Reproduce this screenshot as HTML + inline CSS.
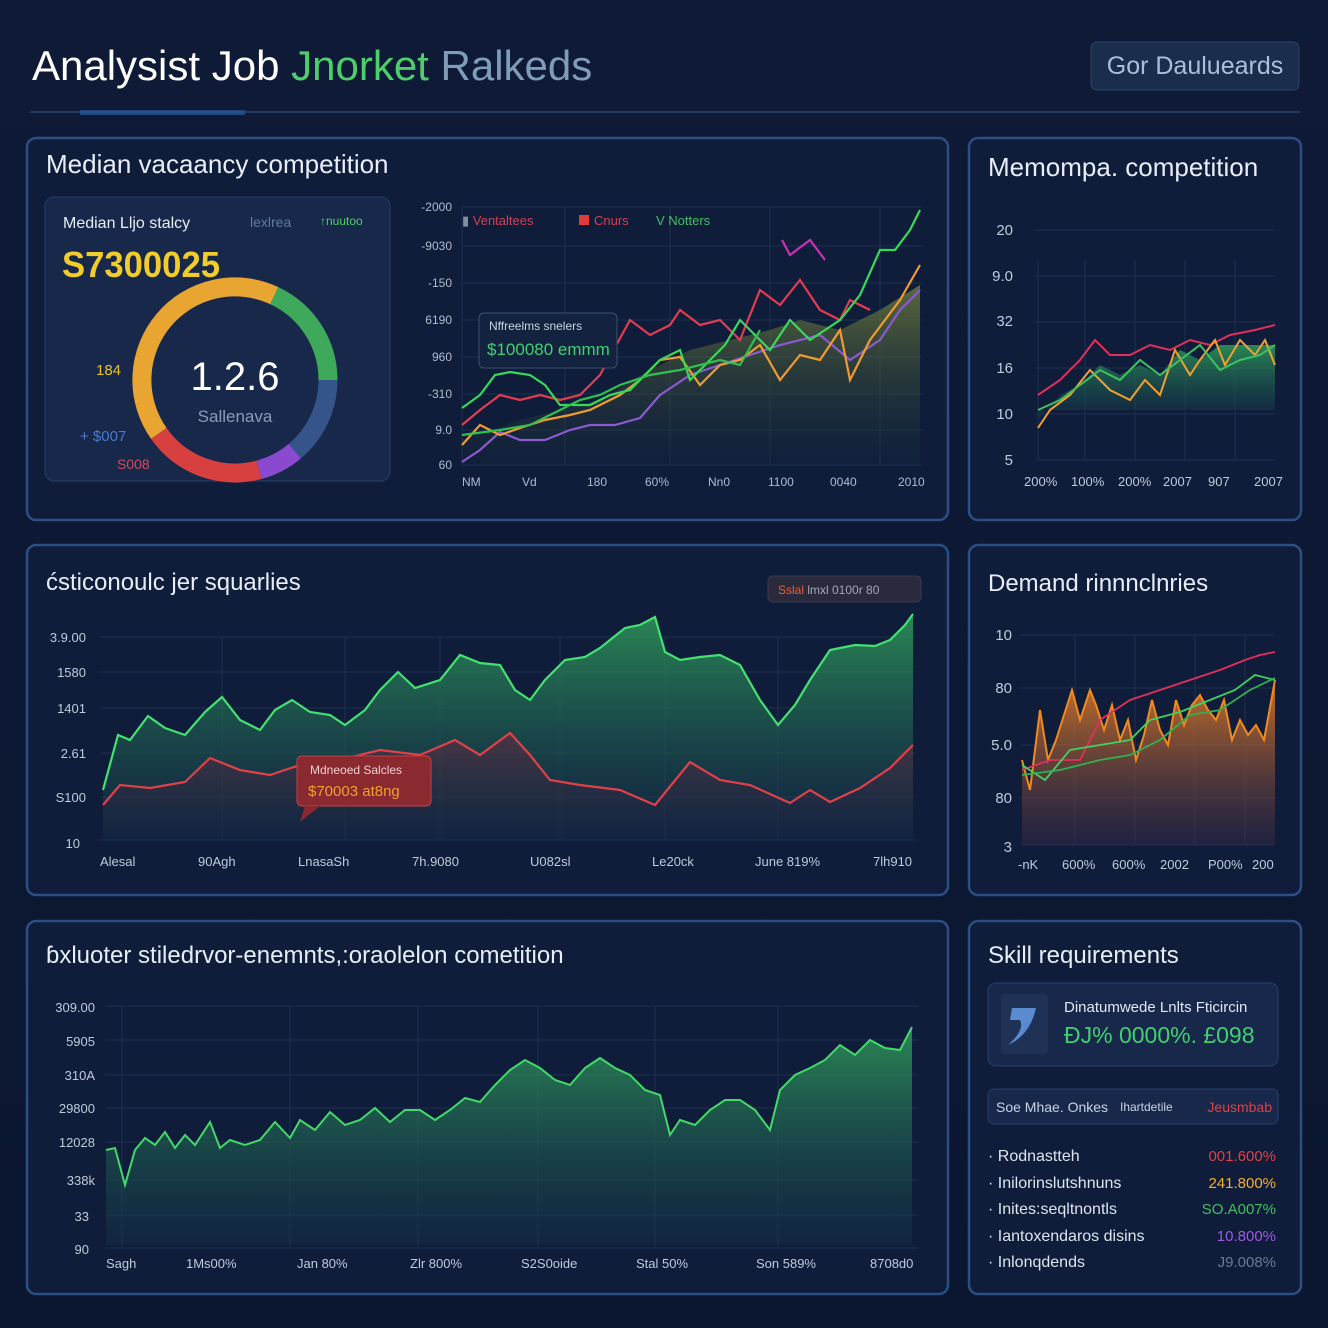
<!DOCTYPE html>
<html><head><meta charset="utf-8"><style>
html,body{margin:0;padding:0;background:#0c1730;}
svg{display:block}
text{font-family:"Liberation Sans",sans-serif}
</style></head><body>
<svg width="1328" height="1328" viewBox="0 0 1328 1328" xmlns="http://www.w3.org/2000/svg">
<defs>
<linearGradient id="bg" x1="0" y1="0" x2="0" y2="1"><stop offset="0" stop-color="#0e1a36"/><stop offset="1" stop-color="#0b1630"/></linearGradient>
<linearGradient id="gA" x1="0" y1="0" x2="0" y2="1"><stop offset="0" stop-color="#2f9a5a" stop-opacity="0.85"/><stop offset="1" stop-color="#14304a" stop-opacity="0.4"/></linearGradient>
<linearGradient id="gO" x1="0" y1="0" x2="0" y2="1"><stop offset="0" stop-color="#e07a25" stop-opacity="0.9"/><stop offset="1" stop-color="#3a2a4a" stop-opacity="0.4"/></linearGradient>
<linearGradient id="gR" x1="0" y1="0" x2="0" y2="1"><stop offset="0" stop-color="#6a2a40" stop-opacity="0.6"/><stop offset="1" stop-color="#1a2040" stop-opacity="0.2"/></linearGradient>
<linearGradient id="gY" x1="0" y1="0" x2="0" y2="1"><stop offset="0" stop-color="#7a8a3a" stop-opacity="0.7"/><stop offset="1" stop-color="#142a3a" stop-opacity="0.2"/></linearGradient>
</defs>
<rect width="1328" height="1328" fill="url(#bg)"/>
<!-- header -->
<text x="32" y="80" font-size="42" fill="#ffffff">Analysist Job <tspan fill="#4ccf6a">Jnorket</tspan> <tspan fill="#7f9db8">Ralkeds</tspan></text>
<rect x="1091" y="42" width="208" height="48" rx="6" fill="#1a2d4c" stroke="#2c4468"/>
<text x="1195" y="74" font-size="25" fill="#a8c0dc" text-anchor="middle">Gor Daulueards</text>
<line x1="30" y1="112" x2="1300" y2="112" stroke="#23385a" stroke-width="2"/>
<rect x="80" y="110" width="165" height="5" fill="#2a5aa0" opacity="0.7"/>
<!-- panels -->
<g fill="#0f1d3a" stroke="#2b4f85" stroke-width="2.5">
<rect x="27" y="138" width="921" height="382" rx="9"/>
<rect x="969" y="138" width="332" height="382" rx="9"/>
<rect x="27" y="545" width="921" height="350" rx="9"/>
<rect x="969" y="545" width="332" height="350" rx="9"/>
<rect x="27" y="921" width="921" height="373" rx="9"/>
<rect x="969" y="921" width="332" height="373" rx="9"/>
</g>
<!-- P1 -->
<text x="46" y="173" font-size="26" fill="#e8eef8">Median vacaancy competition</text>
<rect x="45" y="197" width="345" height="284" rx="9" fill="#17284a" stroke="#23406a"/>
<text x="63" y="228" font-size="16" fill="#e8eef8">Median Lljo stalcy</text>
<text x="250" y="227" font-size="14" fill="#5f7da0">lexlrea</text>
<text x="320" y="225" font-size="12" fill="#4ccf6a">↑nuutoo</text>
<text x="62" y="277" font-size="36" font-weight="bold" fill="#f2cc2a" textLength="158" lengthAdjust="spacingAndGlyphs">S7300025</text>
<g fill="none" stroke-width="19">
<path d="M 158.8 433.4 A 93 93 0 0 1 274.3 295.7" stroke="#e8a532"/>
<path d="M 274.3 295.7 A 93 93 0 0 1 328 380" stroke="#3ea95a"/>
<path d="M 328 380 A 93 93 0 0 1 294.8 451.2" stroke="#34548a"/>
<path d="M 294.8 451.2 A 93 93 0 0 1 259.1 469.8" stroke="#8a4ad0"/>
<path d="M 259.1 469.8 A 93 93 0 0 1 158.8 433.4" stroke="#d84040"/>
</g>
<text x="235" y="390" font-size="40" fill="#ffffff" text-anchor="middle">1.2.6</text>
<text x="235" y="422" font-size="17" fill="#8a9cb4" text-anchor="middle">Sallenava</text>
<text x="96" y="375" font-size="15" fill="#e8c030">184</text>
<text x="80" y="441" font-size="15" fill="#4a7ad0">+ $007</text>
<text x="117" y="469" font-size="14" fill="#d84858">S008</text>
<g stroke="#1d3050" stroke-width="1">
<line x1="462" y1="207" x2="922" y2="207"/><line x1="462" y1="246" x2="922" y2="246"/><line x1="462" y1="283" x2="922" y2="283"/><line x1="462" y1="320" x2="922" y2="320"/><line x1="462" y1="357" x2="922" y2="357"/><line x1="462" y1="394" x2="922" y2="394"/><line x1="462" y1="430" x2="922" y2="430"/><line x1="462" y1="465" x2="922" y2="465"/>
<line x1="462" y1="207" x2="462" y2="465"/><line x1="565" y1="207" x2="565" y2="465"/><line x1="670" y1="207" x2="670" y2="465"/><line x1="770" y1="207" x2="770" y2="465"/><line x1="880" y1="207" x2="880" y2="465"/>
</g>
<g font-size="12" fill="#b0bccc" text-anchor="end">
<text x="452" y="211">-2000</text><text x="452" y="250">-9030</text><text x="452" y="287">-150</text><text x="452" y="324">6190</text><text x="452" y="361">960</text><text x="452" y="398">-310</text><text x="452" y="434">9.0</text><text x="452" y="469">60</text>
</g>
<g font-size="12" fill="#b0bccc"><text x="462" y="486">NM</text><text x="522" y="486">Vd</text><text x="587" y="486">180</text><text x="645" y="486">60%</text><text x="708" y="486">Nn0</text><text x="768" y="486">1100</text><text x="830" y="486">0040</text><text x="898" y="486">2010</text></g>
<text x="462" y="225" font-size="13" fill="#d04050"><tspan fill="#8090a0">▮ </tspan>Ventaltees</text>
<rect x="579" y="215" width="10" height="10" fill="#e03a3a"/><text x="594" y="225" font-size="13" fill="#d04050">Cnurs</text>
<text x="656" y="225" font-size="13" fill="#40c060">V Notters</text>
<path d="M 462 440 L 520 420 L 560 410 L 600 400 L 650 370 L 690 350 L 730 340 L 770 330 L 800 320 L 840 330 L 880 310 L 920 285 L 920 465 L 462 465 Z" fill="url(#gY)"/>
<g fill="none" stroke-width="2.2">
<polyline stroke="#8a5ad0" points="462,462 480,450 500,432 520,440 545,440 570,430 590,425 615,425 640,418 660,395 690,375 720,365 750,355 780,345 820,335 850,360 880,340 900,310 920,290"/>
<polyline stroke="#f09a30" points="462,445 480,425 500,435 520,428 545,420 570,415 590,410 620,395 640,380 660,360 680,357 700,385 720,365 740,360 760,345 780,380 800,355 820,360 840,330 850,380 870,340 900,300 920,265"/>
<polyline stroke="#e23c50" points="462,425 480,410 500,395 520,400 540,395 560,400 580,395 600,375 630,320 650,335 670,325 680,310 700,325 720,320 740,340 760,290 780,305 800,280 820,310 840,320 850,300 870,310"/>
<polyline stroke="#d030b0" points="782,240 790,255 810,240 825,260"/>
<polyline stroke="#38d858" points="462,408 480,395 495,375 510,372 530,375 545,385 560,405 590,405 610,395 630,390 650,370 660,360 680,350 690,380 710,360 725,345 740,320 750,330 770,350 790,320 810,340 840,320 860,295 880,250 895,250 910,230 920,210"/>
<polyline stroke="#30c050" points="462,435 500,430 530,425 560,410 580,400 600,395 620,385 650,375 680,370 720,360 740,365 760,330"/>
</g>
<rect x="479" y="313" width="138" height="55" rx="5" fill="#13233f" stroke="#38506e"/>
<text x="489" y="330" font-size="12" fill="#c8d4e4">Nffreelms snelers</text>
<text x="487" y="355" font-size="17" fill="#40d070">$100080 emmm</text>
<!-- P2 -->
<text x="988" y="176" font-size="26" fill="#e8eef8">Memompa. competition</text>
<g stroke="#1d3050"><line x1="1035" y1="230" x2="1275" y2="230"/><line x1="1035" y1="276" x2="1275" y2="276"/><line x1="1035" y1="322" x2="1275" y2="322"/><line x1="1035" y1="368" x2="1275" y2="368"/><line x1="1035" y1="414" x2="1275" y2="414"/><line x1="1035" y1="460" x2="1275" y2="460"/><line x1="1038" y1="260" x2="1038" y2="460"/><line x1="1085" y1="260" x2="1085" y2="460"/><line x1="1135" y1="260" x2="1135" y2="460"/><line x1="1185" y1="260" x2="1185" y2="460"/><line x1="1235" y1="260" x2="1235" y2="460"/></g>
<g font-size="15" fill="#c0cad8" text-anchor="end"><text x="1013" y="235">20</text><text x="1013" y="281">9.0</text><text x="1013" y="326">32</text><text x="1013" y="373">16</text><text x="1013" y="419">10</text><text x="1013" y="465">5</text></g>
<g font-size="13" fill="#c0cad8"><text x="1024" y="486">200%</text><text x="1071" y="486">100%</text><text x="1118" y="486">200%</text><text x="1163" y="486">2007</text><text x="1208" y="486">907</text><text x="1254" y="486">2007</text></g>
<path d="M1038 420 L1060 395 L1080 385 L1100 365 L1120 375 L1140 365 L1160 375 L1180 350 L1200 360 L1220 345 L1240 345 L1260 345 L1275 345 L1275 410 L1038 410 Z" fill="url(#gA)"/>
<g fill="none" stroke-width="2"><polyline stroke="#e0305a" points="1038,395 1060,380 1080,360 1095,340 1110,355 1130,355 1150,345 1170,350 1190,340 1210,345 1230,335 1255,330 1275,325"/>
<polyline stroke="#f0a030" points="1038,428 1050,410 1070,395 1090,370 1110,390 1130,400 1145,380 1160,395 1175,350 1190,375 1200,360 1215,340 1225,365 1240,340 1255,355 1265,340 1275,365"/>
<polyline stroke="#40c060" points="1038,410 1060,400 1080,385 1100,370 1120,380 1140,360 1160,375 1180,360 1200,345 1220,370 1240,360 1260,355 1275,345"/></g>
<!-- P3 -->
<text x="46" y="590" font-size="24" fill="#e8eef8">ćsticonoulc jer squarlies</text>
<rect x="768" y="576" width="153" height="26" rx="5" fill="#2a2a3c" stroke="#3a3a50"/>
<text x="778" y="594" font-size="12" fill="#e06040">Sslal <tspan fill="#a0a8b8">lmxl  0100r 80</tspan></text>
<g stroke="#1d3050"><line x1="100" y1="637" x2="915" y2="637"/><line x1="100" y1="672" x2="915" y2="672"/><line x1="100" y1="708" x2="915" y2="708"/><line x1="100" y1="753" x2="915" y2="753"/><line x1="100" y1="797" x2="915" y2="797"/><line x1="100" y1="840" x2="915" y2="840"/>
<line x1="222" y1="637" x2="222" y2="840"/><line x1="345" y1="637" x2="345" y2="840"/><line x1="440" y1="637" x2="440" y2="840"/><line x1="560" y1="637" x2="560" y2="840"/><line x1="665" y1="637" x2="665" y2="840"/><line x1="778" y1="637" x2="778" y2="840"/></g>
<g font-size="13" fill="#c0cad8" text-anchor="end"><text x="86" y="642">3.9.00</text><text x="86" y="677">1580</text><text x="86" y="713">1401</text><text x="86" y="758">2.61</text><text x="86" y="802">S100</text><text x="80" y="848">10</text></g>
<g font-size="13" fill="#c0cad8"><text x="100" y="866">Alesal</text><text x="198" y="866">90Agh</text><text x="298" y="866">LnasaSh</text><text x="412" y="866">7h.9080</text><text x="530" y="866">U082sl</text><text x="652" y="866">Le20ck</text><text x="755" y="866">June 819%</text><text x="873" y="866">7lh910</text></g>
<path d="M103 790 L118 735 L130 740 L148 716 L165 728 L185 735 L205 712 L222 697 L240 720 L260 730 L275 710 L292 700 L310 712 L330 715 L345 725 L365 710 L380 690 L398 672 L415 688 L440 680 L460 655 L480 663 L500 665 L515 690 L530 700 L545 680 L565 660 L585 657 L600 648 L625 628 L640 625 L655 617 L665 652 L680 660 L700 657 L720 655 L740 665 L760 700 L778 725 L795 705 L810 680 L830 650 L855 645 L875 646 L890 640 L905 625 L913 614 L913 840 L103 840 Z" fill="url(#gA)"/>
<polyline fill="none" stroke="#44e070" stroke-width="2.2" points="103,790 118,735 130,740 148,716 165,728 185,735 205,712 222,697 240,720 260,730 275,710 292,700 310,712 330,715 345,725 365,710 380,690 398,672 415,688 440,680 460,655 480,663 500,665 515,690 530,700 545,680 565,660 585,657 600,648 625,628 640,625 655,617 665,652 680,660 700,657 720,655 740,665 760,700 778,725 795,705 810,680 830,650 855,645 875,646 890,640 905,625 913,614"/>
<path d="M103 805 L120 785 L150 788 L185 782 L210 758 L240 770 L270 775 L300 765 L340 760 L380 750 L420 755 L455 740 L480 755 L510 733 L530 755 L550 780 L580 785 L620 790 L655 805 L690 762 L720 780 L750 785 L790 803 L810 790 L830 802 L860 788 L890 768 L913 745 L913 840 L103 840 Z" fill="url(#gR)"/>
<polyline fill="none" stroke="#e04048" stroke-width="2.2" points="103,805 120,785 150,788 185,782 210,758 240,770 270,775 300,765 340,760 380,750 420,755 455,740 480,755 510,733 530,755 550,780 580,785 620,790 655,805 690,762 720,780 750,785 790,803 810,790 830,802 860,788 890,768 913,745"/>
<rect x="297" y="756" width="134" height="50" rx="5" fill="#8a2a30" stroke="#c04048"/>
<path d="M305 806 L300 822 L320 806 Z" fill="#8a2a30"/>
<text x="310" y="774" font-size="12" fill="#f0d0d0">Mdneoed Salcles</text>
<text x="308" y="796" font-size="15" fill="#f0a030">$70003 at8ng</text>
<!-- P4 -->
<text x="988" y="591" font-size="24" fill="#e8eef8">Demand rinnnclnries</text>
<g stroke="#1d3050"><line x1="1020" y1="635" x2="1275" y2="635"/><line x1="1020" y1="688" x2="1275" y2="688"/><line x1="1020" y1="745" x2="1275" y2="745"/><line x1="1020" y1="798" x2="1275" y2="798"/><line x1="1020" y1="845" x2="1275" y2="845"/><line x1="1075" y1="635" x2="1075" y2="845"/><line x1="1135" y1="635" x2="1135" y2="845"/><line x1="1195" y1="635" x2="1195" y2="845"/><line x1="1245" y1="635" x2="1245" y2="845"/></g>
<g font-size="15" fill="#c0cad8" text-anchor="end"><text x="1012" y="640">10</text><text x="1012" y="693">80</text><text x="1012" y="750">5.0</text><text x="1012" y="803">80</text><text x="1012" y="852">3</text></g>
<g font-size="13" fill="#c0cad8"><text x="1018" y="869">-nK</text><text x="1062" y="869">600%</text><text x="1112" y="869">600%</text><text x="1160" y="869">2002</text><text x="1208" y="869">P00%</text><text x="1252" y="869">200</text></g>
<path d="M1022 760 L1030 790 L1040 710 L1048 760 L1056 740 L1064 715 L1072 690 L1080 720 L1090 690 L1096 705 L1104 730 L1112 705 L1120 740 L1128 720 L1136 760 L1144 735 L1152 700 L1160 730 L1168 745 L1176 700 L1184 725 L1192 705 L1200 695 L1208 710 L1216 720 L1224 700 L1232 740 L1240 720 L1248 735 L1256 725 L1264 740 L1275 680 L1275 845 L1022 845 Z" fill="url(#gO)"/>
<polyline fill="none" stroke="#f08a20" stroke-width="2" points="1022,760 1030,790 1040,710 1048,760 1056,740 1064,715 1072,690 1080,720 1090,690 1096,705 1104,730 1112,705 1120,740 1128,720 1136,760 1144,735 1152,700 1160,730 1168,745 1176,700 1184,725 1192,705 1200,695 1208,710 1216,720 1224,700 1232,740 1240,720 1248,735 1256,725 1264,740 1275,680"/>
<g fill="none" stroke-width="1.8"><polyline stroke="#e0305a" points="1022,770 1050,760 1080,760 1100,720 1130,700 1160,690 1190,680 1220,670 1245,660 1260,655 1275,652"/>
<polyline stroke="#40d060" points="1022,765 1045,780 1070,750 1100,745 1130,740 1150,720 1180,712 1210,700 1235,690 1255,675 1275,680"/>
<polyline stroke="#30b050" points="1022,775 1060,770 1100,760 1130,755 1160,740 1190,715 1220,710 1250,690 1275,678"/></g>
<!-- P5 -->
<text x="46" y="963" font-size="24" fill="#e8eef8">ɓxluoter stiledrvor-enemnts,:oraolelon cometition</text>
<g stroke="#1d3050"><line x1="105" y1="1006" x2="918" y2="1006"/><line x1="105" y1="1040" x2="918" y2="1040"/><line x1="105" y1="1075" x2="918" y2="1075"/><line x1="105" y1="1108" x2="918" y2="1108"/><line x1="105" y1="1142" x2="918" y2="1142"/><line x1="105" y1="1180" x2="918" y2="1180"/><line x1="105" y1="1215" x2="918" y2="1215"/><line x1="105" y1="1248" x2="918" y2="1248"/>
<line x1="122" y1="1006" x2="122" y2="1248"/><line x1="290" y1="1006" x2="290" y2="1248"/><line x1="418" y1="1006" x2="418" y2="1248"/><line x1="538" y1="1006" x2="538" y2="1248"/><line x1="655" y1="1006" x2="655" y2="1248"/><line x1="778" y1="1006" x2="778" y2="1248"/></g>
<g font-size="13" fill="#c0cad8" text-anchor="end"><text x="95" y="1012">309.00</text><text x="95" y="1046">5905</text><text x="95" y="1080">310A</text><text x="95" y="1113">29800</text><text x="95" y="1147">12028</text><text x="95" y="1185">338k</text><text x="89" y="1221">33</text><text x="89" y="1254">90</text></g>
<g font-size="13" fill="#c0cad8"><text x="106" y="1268">Sagh</text><text x="186" y="1268">1Ms00%</text><text x="297" y="1268">Jan 80%</text><text x="410" y="1268">Zlr 800%</text><text x="521" y="1268">S2S0oide</text><text x="636" y="1268">Stal 50%</text><text x="756" y="1268">Son 589%</text><text x="870" y="1268">8708d0</text></g>
<path d="M106 1150 L115 1148 L125 1185 L135 1150 L145 1138 L155 1145 L165 1132 L175 1148 L185 1135 L195 1145 L210 1122 L220 1148 L230 1140 L245 1145 L260 1140 L275 1122 L290 1138 L300 1120 L315 1130 L330 1112 L345 1125 L360 1120 L375 1108 L390 1122 L405 1110 L420 1110 L435 1120 L450 1110 L465 1098 L480 1102 L495 1085 L510 1070 L525 1060 L540 1068 L555 1080 L570 1085 L585 1068 L600 1058 L615 1068 L630 1075 L645 1090 L660 1095 L670 1135 L680 1120 L695 1125 L710 1110 L725 1100 L740 1100 L755 1110 L770 1130 L780 1090 L795 1075 L810 1068 L825 1060 L840 1045 L855 1055 L870 1040 L885 1048 L900 1050 L912 1027 L912 1245 L106 1245 Z" fill="url(#gA)"/>
<polyline fill="none" stroke="#44d868" stroke-width="2" points="106,1150 115,1148 125,1185 135,1150 145,1138 155,1145 165,1132 175,1148 185,1135 195,1145 210,1122 220,1148 230,1140 245,1145 260,1140 275,1122 290,1138 300,1120 315,1130 330,1112 345,1125 360,1120 375,1108 390,1122 405,1110 420,1110 435,1120 450,1110 465,1098 480,1102 495,1085 510,1070 525,1060 540,1068 555,1080 570,1085 585,1068 600,1058 615,1068 630,1075 645,1090 660,1095 670,1135 680,1120 695,1125 710,1110 725,1100 740,1100 755,1110 770,1130 780,1090 795,1075 810,1068 825,1060 840,1045 855,1055 870,1040 885,1048 900,1050 912,1027"/>
<!-- P6 -->
<text x="988" y="963" font-size="24" fill="#e8eef8">Skill requirements</text>
<rect x="988" y="983" width="290" height="83" rx="8" fill="#17284a" stroke="#23406a"/>
<rect x="1001" y="994" width="47" height="60" rx="4" fill="#1f3256"/>
<path d="M1012 1008 L1036 1008 Q1030 1035 1008 1045 Q1025 1030 1020 1020 L1010 1020 Z" fill="#5a8ad0"/>
<text x="1064" y="1012" font-size="15" fill="#e0e8f4">Dinatumwede Lnlts Fticircin</text>
<text x="1064" y="1043" font-size="23" fill="#40d070">ÐJ% 0000%. £098</text>
<rect x="988" y="1089" width="290" height="35" rx="6" fill="#17284a" stroke="#23406a"/>
<text x="996" y="1112" font-size="14" fill="#c8d4e4">Soe Mhae. Onkes</text>
<text x="1120" y="1111" font-size="12" fill="#c8d4e4">Ihartdetile</text>
<text x="1272" y="1112" font-size="14" fill="#e04048" text-anchor="end">Jeusmbab</text>
<g font-size="16" fill="#dde4ee"><text x="988" y="1161">· Rodnastteh</text><text x="988" y="1188">· Inilorinslutshnuns</text><text x="988" y="1214">· Inites:seqltnontls</text><text x="988" y="1241">· Iantoxendaros disins</text><text x="988" y="1267">· Inlonqdends</text></g>
<g font-size="15" text-anchor="end"><text x="1276" y="1161" fill="#e04048">001.600%</text><text x="1276" y="1188" fill="#f0b030">241.800%</text><text x="1276" y="1214" fill="#40c060">SO.A007%</text><text x="1276" y="1241" fill="#9a5ae0">10.800%</text><text x="1276" y="1267" fill="#6a7a90">J9.008%</text></g>
</svg>
</body></html>
